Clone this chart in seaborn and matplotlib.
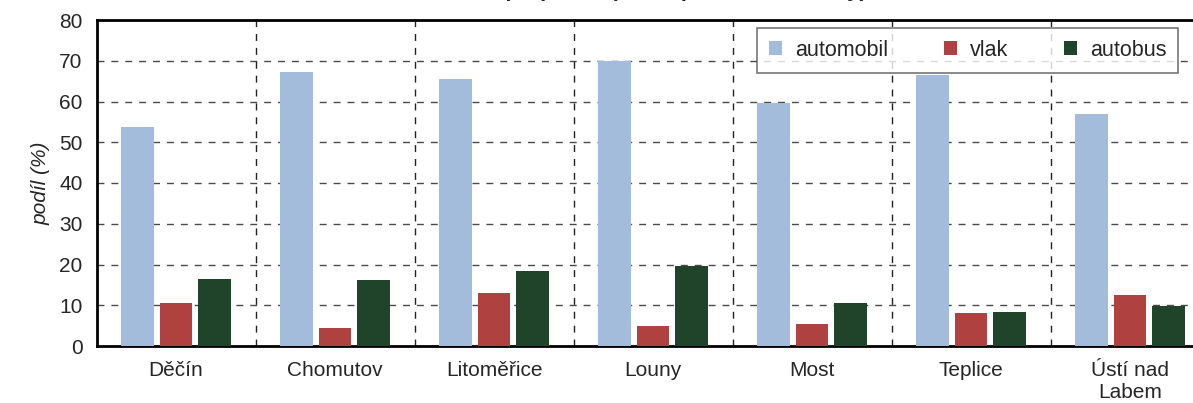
import pandas as pd
import matplotlib.pyplot as plt
import seaborn as sns

okresy = ['Děčín', 'Chomutov', 'Litoměřice', 'Louny', 'Most', 'Teplice', 'Ústí nad\nLabem']
automobil = [53.7, 67.3, 65.4, 70.0, 59.6, 66.6, 57.0]
vlak = [10.5, 4.4, 13.0, 4.9, 5.4, 8.1, 12.5]
autobus = [16.4, 16.2, 18.4, 19.6, 10.6, 8.3, 9.8]
druhy = ['automobil', 'vlak', 'autobus']
barvy = ['#a3bcdc', '#b04141', '#1f4429']

df = pd.DataFrame({'okres': okresy, 'automobil': automobil, 'vlak': vlak, 'autobus': autobus})
df = df.melt(id_vars='okres', var_name='druh', value_name='podil')

sns.set_style('white')
plt.rcParams['font.family'] = ['Liberation Sans', 'DejaVu Sans']

fig = plt.figure(figsize=(11.93, 4.03), dpi=100)
ax = fig.add_axes([96.5 / 1193, 57 / 403, (1209.5 - 96.5) / 1193, 326 / 403])

sns.barplot(data=df, x='okres', y='podil', hue='druh', hue_order=druhy,
            palette=barvy, width=0.72, gap=0.14, saturation=1, linewidth=0,
            ax=ax, zorder=3)

ax.set_xlim(-0.5, len(okresy) - 0.5)
ax.set_ylim(0, 80)
ax.set_yticks(range(0, 81, 10))
ax.set_xticks([i + 0.5 for i in range(len(okresy) - 1)], minor=True)
ax.tick_params(axis='x', which='major', length=0, pad=11, labelsize=15)
ax.tick_params(axis='x', which='minor', length=5, width=1, color='#333333', direction='out')
ax.tick_params(axis='y', length=6, width=1, color='#333333', direction='out', labelsize=15, pad=4)

# mřížka
for y in range(10, 80, 10):
    ax.axhline(y, color='#4a4a4a', lw=1, ls=(0, (5, 5)), zorder=1)
for x in ax.get_xticks(minor=True):
    ax.axvline(x, color='#222222', lw=1, ls=(0, (5, 5)), zorder=1)

for s in ax.spines.values():
    s.set_color('black')
    s.set_linewidth(2)

ax.set_xlabel('')
ax.set_ylabel('podíl (%)', style='italic', fontsize=15, labelpad=6)
ax.set_title('Dělba přepravní práce (rok 2001, okresy)', fontsize=16, fontweight='bold', pad=17)

leg = ax.legend(ncol=3, loc='upper right', bbox_to_anchor=(1178 / 1193, 1 - 28 / 403),
                bbox_transform=fig.transFigure, fontsize=15.5, frameon=True, fancybox=False,
                handlelength=0.6, handleheight=0.6, handletextpad=0.6, columnspacing=2.6,
                borderpad=0.55, borderaxespad=0)
leg.get_frame().set_edgecolor('#555555')
leg.get_frame().set_linewidth(1.2)
leg.set_zorder(5)

fig.savefig('out.png', dpi=100)
